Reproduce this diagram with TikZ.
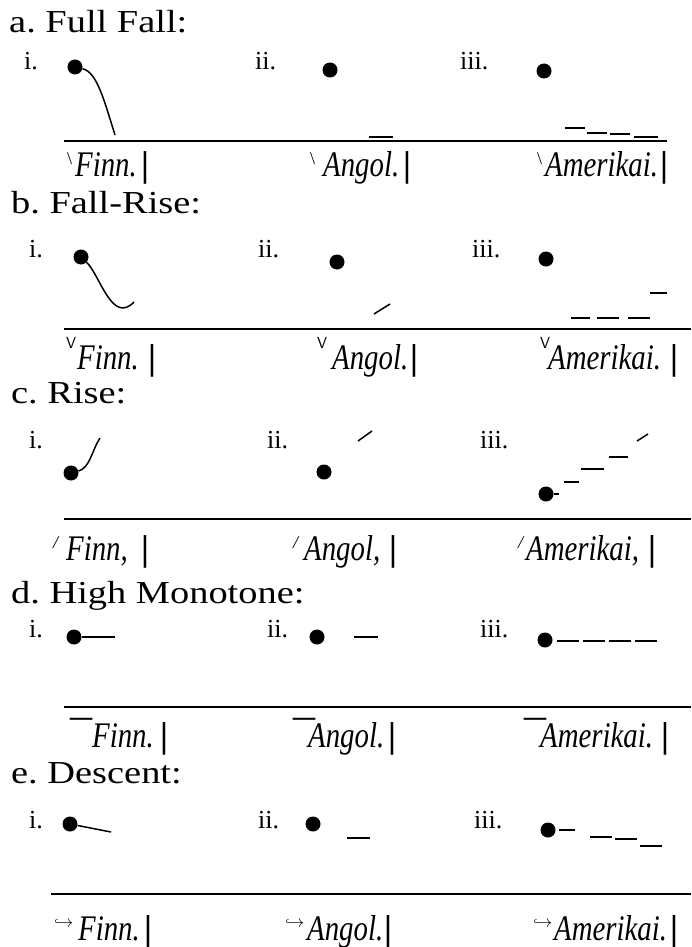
\documentclass[tikz,border=0pt]{standalone}
\usepackage{fontspec}
\setmainfont{Liberation Serif}
\usepackage{amsmath}
\usepackage{graphicx}

\newcommand{\widetext}[1]{\scalebox{1.2}[1]{#1}}
\newcommand{\narrowtext}[1]{\scalebox{0.8}[1]{#1}}

\tikzset{
  head/.style={anchor=base west, inner sep=0pt, font=\fontsize{32}{32}\selectfont},
  num/.style={anchor=base west, inner sep=0pt, font=\fontsize{26}{26}\selectfont},
  word/.style={anchor=base west, inner sep=0pt, font=\fontsize{36}{36}\selectfont\itshape},
  bar/.style={anchor=base, inner sep=0pt, font=\fontsize{36}{36}\selectfont\bfseries},
  tonemark/.style={anchor=north west, inner sep=0pt, font=\fontsize{18}{18}\selectfont},
  dot/.style={circle, fill, minimum size=15pt, inner sep=0pt},
  tone/.style={line width=1.5pt},
  level/.style={line width=1.9pt},
  stave/.style={line width=1.9pt}
}

\begin{document}
\begin{tikzpicture}[x=1pt,y=-1pt]
    \useasboundingbox (0,0) rectangle (691,947);

    % a. Full Fall
    \node[head] (ha) at (9,33) {\widetext{a.\hspace{8pt}Full Fall:}};
    \node[num] (na1) at (24,70) {i.};
    \node[num] (na2) at (255,70) {ii.};
    \node[num] (na3) at (460,70) {iii.};
    \node[dot] (a1) at (75,67) {};
    \node[dot] (a2) at (330,70) {};
    \node[dot] (a3) at (544,71) {};
    \coordinate (a1e) at (115,135);
    \draw[tone] (a1) .. controls (97,72) and (104,100) .. (a1e);
    \draw[level] (369,137) -- (393,137);
    \draw[level] (565,128) -- (585,128);
    \draw[level] (587,133) -- (607,133);
    \draw[level] (610,134) -- (630,134);
    \draw[level] (634,137) -- (658,137);
    \coordinate (sa0) at (64,141);
    \coordinate (sa1) at (667,141);
    \draw[stave] (sa0) -- (sa1);
    \foreach \n/\tx/\wx/\w/\bx in {1/67/75/Finn./145, 2/310/323/Angol./407, 3/537/545/Amerikai./664}{
        \node[tonemark] (ta\n) at (\tx,152) {\textbackslash};
        \node[word] (wa\n) at (\wx,176) {\narrowtext{\w}};
        \node[bar] (ba\n) at (\bx,176) {|};
    }

    % b. Fall-Rise
    \node[head] (hb) at (11,213) {\widetext{b.\hspace{8pt}Fall-Rise:}};
    \node[num] (nb1) at (29,257) {i.};
    \node[num] (nb2) at (258,257) {ii.};
    \node[num] (nb3) at (472,257) {iii.};
    \node[dot] (b1) at (81,257) {};
    \node[dot] (b2) at (337,262) {};
    \node[dot] (b3) at (546,259) {};
    \coordinate (b1e) at (134,302);
    \draw[tone] (b1) .. controls (100,275) and (112,325) .. (b1e);
    \draw[tone] (374,314) -- (390,304);
    \draw[level] (571,318) -- (590,318);
    \draw[level] (597,318) -- (619,318);
    \draw[level] (628,318) -- (650,318);
    \draw[level] (650,293) -- (667,293);
    \coordinate (sb0) at (64,329);
    \coordinate (sb1) at (691,329);
    \draw[stave] (sb0) -- (sb1);
    \foreach \n/\tx/\wx/\w/\bx in {1/66/77/Finn./152, 2/317/332/Angol./414, 3/540/548/Amerikai./674}{
        \node[tonemark, font=\fontsize{16}{16}\sffamily] (tb\n) at (\tx,337) {V};
        \node[word] (wb\n) at (\wx,369) {\narrowtext{\w}};
        \node[bar] (bb\n) at (\bx,369) {|};
    }

    % c. Rise
    \node[head] (hc) at (11,403) {\widetext{c.\hspace{8pt}Rise:}};
    \node[num] (nc1) at (29,448) {i.};
    \node[num] (nc2) at (267,448) {ii.};
    \node[num] (nc3) at (480,448) {iii.};
    \node[dot] (c1) at (71,473) {};
    \node[dot] (c2) at (324,472) {};
    \node[dot] (c3) at (546,494) {};
    \coordinate (c1e) at (100,438);
    \draw[tone] (c1) .. controls (90,468) and (92,450) .. (c1e);
    \draw[tone] (358,441) -- (372,431);
    \coordinate (c3t) at (559,494);
    \draw[level] (c3) -- (c3t);
    \draw[level] (564,482) -- (579,482);
    \draw[level] (581,469) -- (604,469);
    \draw[level] (609,457) -- (628,457);
    \draw[tone] (637,441) -- (648,434);
    \coordinate (sc0) at (64,519);
    \coordinate (sc1) at (691,519);
    \draw[stave] (sc0) -- (sc1);
    \foreach \n/\tx/\wx/\w/\bx in {1/53/66/{Finn,}/145, 2/293/304/{Angol,}/393, 3/518/526/{Amerikai,}/652}{
        \node[tonemark, font=\fontsize{18}{18}\selectfont\itshape] (tc\n) at (\tx,536) {/};
        \node[word] (wc\n) at (\wx,560) {\narrowtext{\w}};
        \node[bar] (bc\n) at (\bx,560) {|};
    }

    % d. High Monotone
    \node[head] (hd) at (11,603) {\widetext{d.\hspace{8pt}High Monotone:}};
    \node[num] (nd1) at (29,637) {i.};
    \node[num] (nd2) at (267,637) {ii.};
    \node[num] (nd3) at (480,637) {iii.};
    \node[dot] (d1) at (74,637) {};
    \node[dot] (d2) at (317,637) {};
    \node[dot] (d3) at (545,640) {};
    \coordinate (d1e) at (115,637);
    \draw[level] (d1) -- (d1e);
    \draw[level] (354,637) -- (378,637);
    \foreach \x in {557,583,609,635}
        \draw[level] (\x,641) -- ++(22,0);
    \coordinate (sd0) at (64,707);
    \coordinate (sd1) at (691,707);
    \draw[stave] (sd0) -- (sd1);
    \foreach \n/\tx/\wx/\w/\bx in {1/70/92/Finn./164, 2/293/308/Angol./392, 3/524/540/Amerikai./665}{
        \node[tonemark, font=\fontsize{44}{44}\selectfont] (td\n) at (\tx,718) {\textasciimacron};
        \node[word] (wd\n) at (\wx,747) {\narrowtext{\w}};
        \node[bar] (bd\n) at (\bx,747) {|};
    }

    % e. Descent
    \node[head] (he) at (11,783) {\widetext{e.\hspace{8pt}Descent:}};
    \node[num] (ne1) at (29,828) {i.};
    \node[num] (ne2) at (258,828) {ii.};
    \node[num] (ne3) at (474,828) {iii.};
    \node[dot] (e1) at (70,824) {};
    \node[dot] (e2) at (313,824) {};
    \node[dot] (e3) at (548,830) {};
    \coordinate (e1e) at (111,832);
    \draw[tone] (e1) -- (e1e);
    \draw[level] (347,838) -- (370,838);
    \draw[level] (559,830) -- (575,830);
    \draw[level] (590,837) -- (612,837);
    \draw[level] (615,839) -- (637,839);
    \draw[level] (640,846) -- (662,846);
    \coordinate (se0) at (51,894);
    \coordinate (se1) at (691,894);
    \draw[stave] (se0) -- (se1);
    \foreach \n/\tx/\wx/\w/\bx in {1/54/78/Finn./148, 2/285/307/Angol./388, 3/533/554/Amerikai./674}{
        \node[anchor=base west, inner sep=0pt, font=\fontsize{17}{17}\selectfont] (te\n) at (\tx,927) {$\hookrightarrow$};
        \node[word] (we\n) at (\wx,940) {\narrowtext{\w}};
        \node[bar] (be\n) at (\bx,940) {|};
    }
\end{tikzpicture}
\end{document}
